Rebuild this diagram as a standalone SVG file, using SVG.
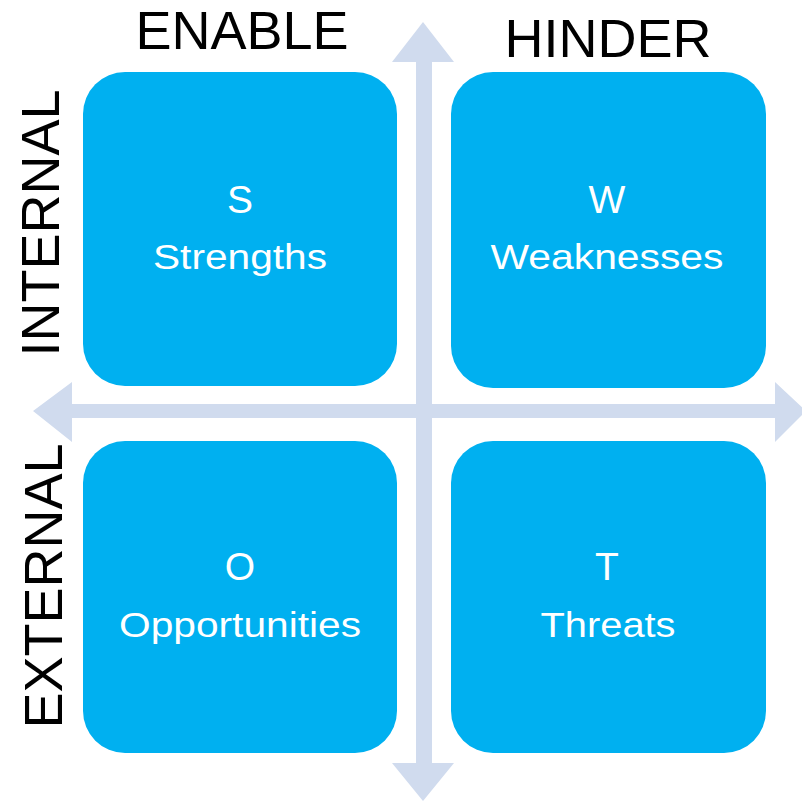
<svg xmlns="http://www.w3.org/2000/svg" width="802" height="801" viewBox="0 0 802 801">
  <style>
    .box { fill: #00B0F0; }
    .axis { fill: #D0DBEE; }
    .head { font-family: "Liberation Sans", Arial, sans-serif; font-size: 54px; fill: #000000; text-anchor: middle; }
    .letter { font-family: "Liberation Sans", Arial, sans-serif; font-size: 39px; fill: #FFFFFF; text-anchor: middle; }
    .name { font-family: "Liberation Sans", Arial, sans-serif; font-size: 35px; fill: #FFFFFF; text-anchor: middle; }
  </style>

  <!-- axes: two double-headed block arrows -->
  <g id="connectors">
    <polygon class="axis" points="423,22 454,62 432,62 432,763 454,763 423,801 392,763 416,763 416,62 392,62"/>
    <polygon class="axis" points="33,411 72,382 72,404 775,404 775,382 806,411 775,442 775,418 72,418 72,442"/>
  </g>

  <!-- axis labels -->
  <g id="labels">
    <text class="head" x="242" y="49">ENABLE</text>
    <text class="head" x="608" y="57">HINDER</text>
    <text class="head" transform="translate(59,223) rotate(-90)">INTERNAL</text>
    <text class="head" transform="translate(62,586) rotate(-90)">EXTERNAL</text>
  </g>

  <g id="strengths">
    <rect class="box" x="83" y="72" width="314" height="314" rx="42" ry="42"/>
    <text class="letter" x="240" y="213">S</text>
    <text class="name" x="240" y="269" textLength="174" lengthAdjust="spacingAndGlyphs">Strengths</text>
  </g>

  <g id="weaknesses">
    <rect class="box" x="451" y="72" width="315" height="316" rx="42" ry="42"/>
    <text class="letter" x="607" y="213">W</text>
    <text class="name" x="607" y="269" textLength="233" lengthAdjust="spacingAndGlyphs">Weaknesses</text>
  </g>

  <g id="opportunities">
    <rect class="box" x="83" y="441" width="314" height="312" rx="42" ry="42"/>
    <text class="letter" x="240" y="580">O</text>
    <text class="name" x="240" y="637" textLength="242" lengthAdjust="spacingAndGlyphs">Opportunities</text>
  </g>

  <g id="threats">
    <rect class="box" x="451" y="441" width="315" height="312" rx="42" ry="42"/>
    <text class="letter" x="607" y="580">T</text>
    <text class="name" x="608" y="637" textLength="135" lengthAdjust="spacingAndGlyphs">Threats</text>
  </g>
</svg>
